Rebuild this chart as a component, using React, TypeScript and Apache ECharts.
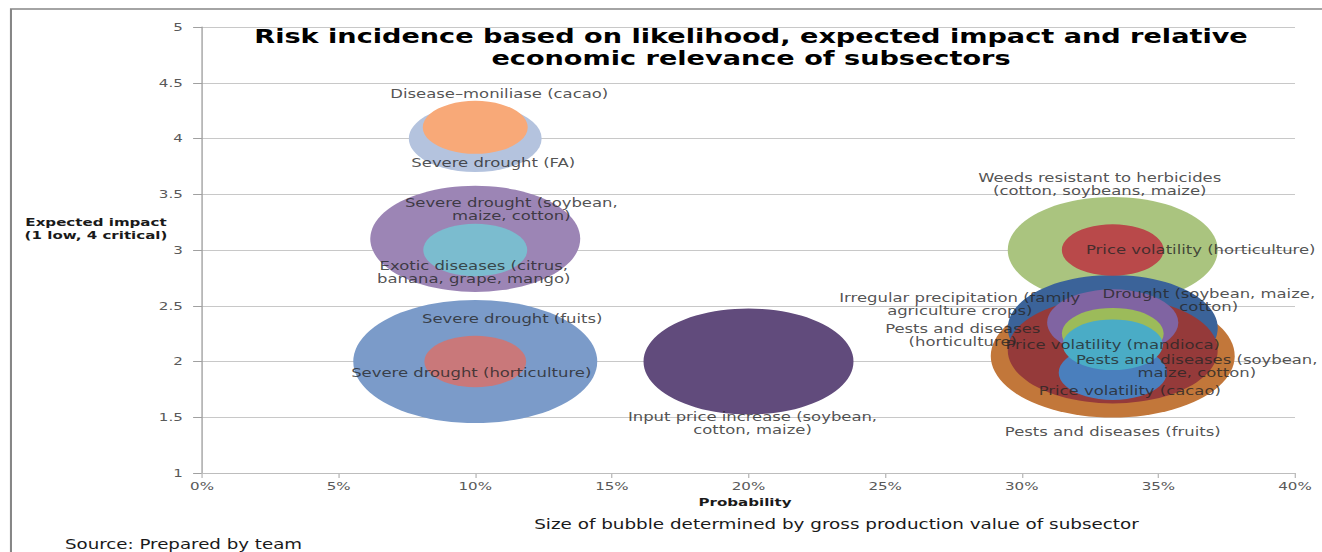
import { useEffect, useRef } from 'react';
import * as echarts from 'echarts';

// The reference picture is a chart stretched horizontally; we draw it narrower and stretch it the same way.
const S = 1.37;
const W = 1322;
const H = 552;
const CW = W / S;

const RISKS = [
  'Pests and diseases (fruits)',
  'Severe drought (fuits)',
  'Weeds resistant to herbicides\n(cotton, soybeans, maize)',
  'Drought (soybean, maize,\ncotton)',
  'Pests and diseases\n(horticulture)',
  'Severe drought (soybean,\nmaize, cotton)',
  'Input price increase (soybean,\ncotton, maize)',
  'Severe drought (FA)',
  'Irregular precipitation (family\nagriculture crops)',
  'Disease–moniliase (cacao)',
  'Severe drought (horticulture)',
  'Exotic diseases (citrus,\nbanana, grape, mango)',
  'Price volatility (horticulture)',
  'Price volatility (mandioca)',
  'Price volatility (cacao)',
  'Pests and diseases (soybean,\nmaize, cotton)',
];
const PROBABILITY = [33.33, 10, 33.33, 33.33, 33.33, 10, 20, 10, 33.33, 10, 10, 10, 33.33, 33.33, 33.33, 33.33];
const IMPACT = [2.05, 2, 3, 2.3, 2.1, 3.1, 2, 4, 2.35, 4.1, 2, 3, 3, 2.25, 1.9, 2.15];
const PRODUCTION_VALUE = [54, 54, 40, 40, 40, 40, 40, 16, 15.6, 10, 9.4, 9.8, 9.4, 9.4, 10.6, 9.1];

const X_MIN = 0;
const X_MAX = 40;
const X_STEP = 5;
const Y_MIN = 1;
const Y_MAX = 5;
const Y_STEP = 0.5;

const TITLE = 'Risk incidence based on likelihood, expected impact and relative\neconomic relevance of subsectors';
const Y_NAME = 'Expected impact\n(1 low, 4 critical)';
const X_NAME = 'Probability';
const NOTE = 'Size of bubble determined by gross production value of subsector';
const SOURCE = 'Source: Prepared by team';

// styles
const COLORS = [
  '#c2773a', '#7b9bc9', '#aac47f', '#3b6399', '#953a3a', '#9c85b5', '#614b7c', '#b4c3de',
  '#8064a2', '#f8a978', '#c9787a', '#7bbccf', '#b9494a', '#9cbb5a', '#4a7fbd', '#4aacc6',
];
// label shift from the bubble centre, in picture pixels
const LABEL_SHIFT: [number, number][] = [
  [0, 76], [37, -42.5], [-13, -66], [96, -28], [-150, -15.5], [36, -29.5], [4, 62], [18, 24],
  [-153, -18], [24, -34], [-4, 11.5], [-1.5, 22.5], [88, 0], [0, 11.5], [17, 18], [84, 21.7],
];

const FONT = 'DejaVu Sans';

function bubbleSize(v: number): number[] {
  const r = Math.sqrt(v);
  return [(33.2 / S) * r, 16.77 * r];
}

function buildOption() {
  const bubbles = RISKS.map((name, i) => ({
    name,
    value: [PROBABILITY[i], IMPACT[i], PRODUCTION_VALUE[i]],
    itemStyle: { color: COLORS[i] },
  }));
  const labels = RISKS.map((name, i) => ({
    name,
    value: [PROBABILITY[i], IMPACT[i]],
    label: { offset: [LABEL_SHIFT[i][0] / S, LABEL_SHIFT[i][1]] },
  }));
  return {
    animation: false,
    textStyle: { fontFamily: FONT },
    grid: { left: 202 / S, right: CW - 1295 / S, top: 27, bottom: H - 473 },
    xAxis: {
      type: 'value',
      min: X_MIN,
      max: X_MAX,
      interval: X_STEP,
      axisLabel: { formatter: '{value}%', fontSize: 11, color: '#595959', margin: 8, fontFamily: FONT },
      axisLine: { show: true, lineStyle: { color: '#bdbdbd', width: 1 } },
      axisTick: { show: true, length: 5, lineStyle: { color: '#bdbdbd' } },
      splitLine: { show: false },
    },
    yAxis: {
      type: 'value',
      min: Y_MIN,
      max: Y_MAX,
      interval: Y_STEP,
      axisLabel: { fontSize: 11, color: '#595959', margin: 14, fontFamily: FONT },
      axisLine: { show: true, lineStyle: { color: '#a0a0a0', width: 1 } },
      axisTick: { show: true, length: 6.5, lineStyle: { color: '#a0a0a0' } },
      splitLine: { show: true, lineStyle: { color: '#c8c8c8', width: 1 } },
    },
    graphic: [
      {
        type: 'rect',
        shape: { x: 8, y: 9, width: 3000, height: 3000 },
        style: { fill: 'none', stroke: '#868686', lineWidth: 1.5 },
        silent: true,
      },
      {
        type: 'text',
        x: 751 / S,
        y: 25,
        style: {
          text: TITLE, textAlign: 'center', textVerticalAlign: 'top', fontFamily: FONT,
          fontSize: 19.8, fontWeight: 'bold', lineHeight: 22, fill: '#000',
        },
      },
      {
        type: 'text',
        x: 96 / S,
        y: 228.5,
        style: {
          text: Y_NAME, textAlign: 'center', textVerticalAlign: 'middle', fontFamily: FONT,
          fontSize: 11, fontWeight: 'bold', lineHeight: 13, fill: '#1a1a1a',
        },
      },
      {
        type: 'text',
        x: 745 / S,
        y: 502,
        style: {
          text: X_NAME, textAlign: 'center', textVerticalAlign: 'middle', fontFamily: FONT,
          fontSize: 11, fontWeight: 'bold', fill: '#1a1a1a',
        },
      },
      {
        type: 'text',
        x: 836.5 / S,
        y: 524,
        style: {
          text: NOTE, textAlign: 'center', textVerticalAlign: 'middle', fontFamily: FONT,
          fontSize: 13.4, fill: '#1a1a1a',
        },
      },
      {
        type: 'text',
        x: 183.5 / S,
        y: 544,
        style: {
          text: SOURCE, textAlign: 'center', textVerticalAlign: 'middle', fontFamily: FONT,
          fontSize: 13.3, fill: '#1a1a1a',
        },
      },
    ],
    series: [
      {
        type: 'scatter',
        symbol: 'circle',
        symbolSize: (val: number[]) => bubbleSize(val[2]),
        data: bubbles,
        itemStyle: { opacity: 1 },
        emphasis: { disabled: true },
        z: 2,
      },
      {
        type: 'scatter',
        symbol: 'circle',
        symbolSize: 1,
        itemStyle: { color: 'rgba(0,0,0,0)' },
        silent: true,
        z: 10,
        data: labels,
        label: {
          show: true,
          position: 'inside',
          formatter: '{b}',
          fontFamily: FONT,
          fontSize: 12,
          lineHeight: 13,
          color: '#262626',
          align: 'center',
          verticalAlign: 'middle',
        },
      },
    ],
  };
}

export default function App() {
  const ref = useRef<HTMLDivElement>(null);
  useEffect(() => {
    if (!ref.current) return;
    const chart = echarts.init(ref.current, null, { renderer: 'svg', width: CW, height: H });
    chart.setOption(buildOption() as any);
    return () => chart.dispose();
  }, []);
  return (
    <div
      style={{
        position: 'fixed', left: 0, top: 0, width: W, height: H, overflow: 'hidden', background: '#fff',
      }}
    >
      <div
        ref={ref}
        style={{ width: CW, height: H, transform: `scaleX(${S})`, transformOrigin: '0 0' }}
      />
    </div>
  );
}
